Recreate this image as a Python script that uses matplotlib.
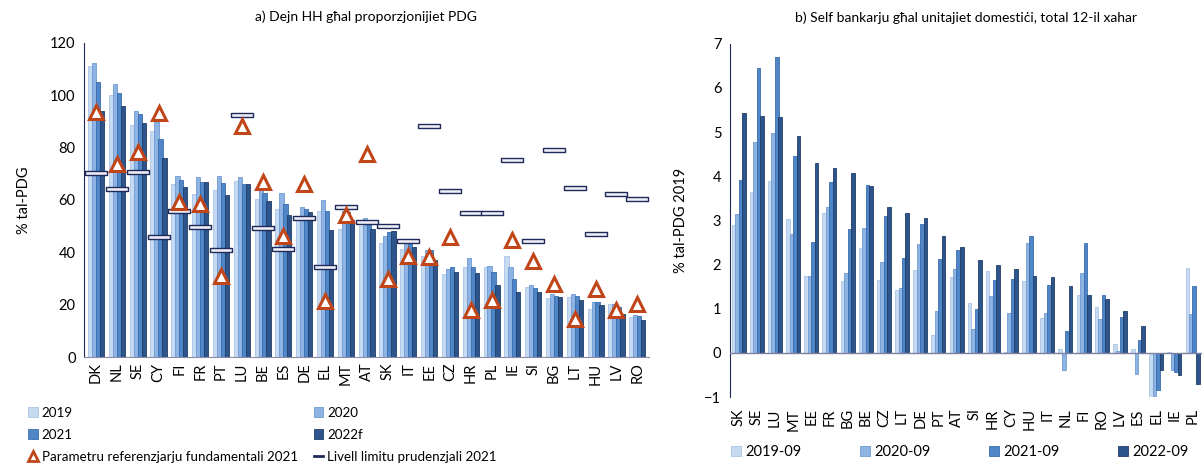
import numpy as np
import matplotlib as mpl
mpl.use("Agg")
import matplotlib.pyplot as plt
import matplotlib.lines as mlines
import matplotlib.patches as mpatch

mpl.rcParams.update({"font.family": ["Lato", "DejaVu Sans"], "font.size": 10.5})

# ---------- data: panel a ----------
A_CTRY = ["DK", "NL", "SE", "CY", "FI", "FR", "PT", "LU", "BE", "ES", "DE", "EL", "MT", "AT",
          "SK", "IT", "EE", "CZ", "HR", "PL", "IE", "SI", "BG", "LT", "HU", "LV", "RO"]
A_2019 = [111.0, 100.0, 88.8, 86.2, 65.9, 62.4, 63.8, 67.3, 60.3, 56.7, 53.5, 55.8, 48.9, 49.9,
          43.5, 41.3, 38.6, 31.6, 34.3, 34.3, 38.6, 26.7, 22.6, 22.8, 18.4, 20.2, 15.4]
A_2020 = [112.4, 104.4, 93.8, 89.8, 69.1, 68.7, 69.1, 68.6, 65.8, 62.8, 57.3, 59.9, 55.6, 53.1,
          46.4, 43.9, 40.8, 33.8, 37.7, 34.7, 34.2, 27.5, 23.9, 24.0, 20.9, 20.2, 16.2]
A_2021 = [104.9, 100.8, 92.9, 83.2, 67.7, 66.8, 66.4, 66.0, 62.8, 58.5, 56.7, 55.8, 55.3, 52.2,
          47.8, 43.5, 40.8, 34.2, 34.2, 32.4, 29.8, 26.2, 23.4, 23.4, 20.9, 19.2, 15.7]
A_2022 = [94.0, 95.9, 89.3, 76.1, 65.0, 66.8, 62.0, 66.0, 59.7, 54.4, 55.4, 48.4, 52.4, 48.9,
          48.2, 42.0, 37.1, 32.4, 32.0, 27.5, 24.9, 24.9, 23.0, 21.9, 19.7, 16.6, 14.3]
A_REF = [93.6, 73.6, 78.3, 93.1, 59.4, 58.6, 31.0, 88.3, 66.8, 46.4, 66.1, 21.5, 54.4, 77.7,
         29.8, 38.6, 38.1, 46.0, 17.9, 21.7, 44.8, 36.8, 27.9, 14.6, 25.8, 17.9, 20.2]
A_LIM = [70.4, 64.2, 70.7, 46.0, 55.8, 49.6, 40.8, 92.5, 49.1, 41.2, 53.1, 34.2, 57.2, 51.4,
         50.0, 44.4, 88.4, 63.3, 54.9, 54.9, 75.2, 44.4, 79.2, 64.7, 47.1, 62.4, 60.3]
A_YEARS = ["2019", "2020", "2021", "2022f"]

# ---------- data: panel b ----------
B_CTRY = ["SK", "SE", "LU", "MT", "EE", "FR", "BG", "BE", "CZ", "LT", "DE", "PT", "AT", "SI",
          "HR", "CY", "HU", "IT", "NL", "FI", "RO", "LV", "ES", "EL", "IE", "PL"]
B_2019 = [2.89, 3.65, 3.89, 3.03, 1.75, 3.16, 1.63, 2.37, 1.65, 1.43, 1.87, 0.40, 1.72, 1.12,
          1.85, 0.02, 1.62, 0.78, 0.08, 1.30, 1.04, 0.21, 0.08, -1.03, 0.02, 1.93]
B_2020 = [3.14, 4.78, 4.99, 2.69, 1.75, 3.31, 1.82, 2.82, 2.06, 1.46, 2.46, 0.94, 1.90, 0.53,
          1.28, 0.91, 2.48, 0.91, -0.38, 1.82, 0.76, 0.05, -0.48, -1.03, -0.38, 0.88]
B_2021 = [3.92, 6.46, 6.70, 4.46, 2.51, 3.86, 2.80, 3.81, 3.11, 2.16, 2.92, 2.12, 2.33, 0.99,
          1.65, 1.67, 2.65, 1.53, 0.49, 2.50, 1.32, 0.81, 0.30, -0.85, -0.43, 1.51]
B_2022 = [5.43, 5.37, 5.34, 4.91, 4.31, 4.18, 4.07, 3.79, 3.31, 3.16, 3.05, 2.65, 2.40, 2.11,
          1.98, 1.90, 1.75, 1.72, 1.51, 1.30, 1.22, 0.96, 0.62, -0.38, -0.50, -0.71]
B_YEARS = ["2019-09", "2020-09", "2021-09", "2022-09"]

FILL = ["#C6DAF2", "#8DB4E3", "#4F86C8", "#2D558C"]
EDGE = ["#A9C4E6", "#6E9AD3", "#3A6CAE", "#1F3D68"]
NAVY = "#1F2A5A"
TRI = "#C0461A"

fig = plt.figure(figsize=(12.04, 4.71), dpi=100)

# ---------- panel a ----------
ax = fig.add_axes([0.0698, 0.242, 0.469, 0.667])
x = np.arange(len(A_CTRY))
for j, vals in enumerate([A_2019, A_2020, A_2021, A_2022]):
    ax.bar(x + (j - 1.5) * 0.19, vals, 0.205, color=FILL[j], edgecolor=EDGE[j], linewidth=0.6, zorder=2)
rect = [(-1, -0.18), (1, -0.18), (1, 0.18), (-1, 0.18), (-1, -0.18)]
ax.plot(x, A_LIM, ls="", marker=rect, ms=16, mfc="#EEEEF6", mec=NAVY, mew=1.0, zorder=4)
ax.plot(x, A_REF, ls="", marker="^", ms=10, mfc="white", mec=TRI, mew=2.2, zorder=5)
ax.set_xlim(-0.58, 26.55); ax.set_ylim(0, 120)
ax.set_yticks(range(0, 121, 20))
ax.set_xticks(x); ax.set_xticklabels(A_CTRY, rotation=90)
ax.tick_params(length=0, pad=6)
ax.tick_params(axis="x", pad=4)
for s in ["top", "right"]: ax.spines[s].set_visible(False)
ax.spines["left"].set_color(NAVY); ax.spines["bottom"].set_color("#8C8CA8")
ax.set_ylabel("% tal-PDG", labelpad=14)
ax.set_title("a) Dejn HH għal proporzjonijiet PDG", fontsize=10, pad=16)

sq = lambda c, e: mpatch.Patch(fc=c, ec=e, lw=0.6)
h1 = [sq(FILL[0], EDGE[0]), sq(FILL[2], EDGE[2]),
      mlines.Line2D([], [], ls="", marker="^", ms=7, mfc="white", mec=TRI, mew=2)]
h2 = [sq(FILL[1], EDGE[1]), sq(FILL[3], EDGE[3]),
      mlines.Line2D([], [], color=NAVY, lw=2)]
kw = dict(frameon=False, handlelength=0.7, handleheight=0.7, handletextpad=0.3,
          labelspacing=0.75, borderaxespad=0, fontsize=9.6)
fig.legend(h1, ["2019", "2021", "Parametru referenzjarju fundamentali 2021"],
           loc="upper left", bbox_to_anchor=(0.019, 0.148), **kw)
fig.legend(h2, ["2020", "2022f", "Livell limitu prudenzjali 2021"],
           loc="upper left", bbox_to_anchor=(0.256, 0.148), **kw)

# ---------- panel b ----------
bx = fig.add_axes([0.606, 0.157, 0.392, 0.75])
xb = np.arange(len(B_CTRY))
for j, vals in enumerate([B_2019, B_2020, B_2021, B_2022]):
    bx.bar(xb + (j - 1.5) * 0.19, vals, 0.2, color=FILL[j], edgecolor=EDGE[j], linewidth=0.6,
           zorder=2, label=B_YEARS[j])
bx.axhline(0, color="#7F7F9F", lw=1.0, zorder=3)
bx.set_xlim(-0.5, 25.5); bx.set_ylim(-1, 7)
bx.set_yticks(range(-1, 8))
bx.set_xticks(xb); bx.set_xticklabels(B_CTRY, rotation=90)
bx.tick_params(length=0, pad=6)
bx.tick_params(axis="x", pad=8)
for s in ["top", "right", "bottom"]: bx.spines[s].set_visible(False)
bx.spines["left"].set_color(NAVY)
bx.set_ylabel("% tal-PDG 2019", labelpad=12)
bx.set_title("b) Self bankarju għal unitajiet domestiċi, total 12-il xahar", fontsize=10, pad=16)
kw2 = dict(kw, fontsize=10.5)
fig.legend([sq(FILL[j], EDGE[j]) for j in range(4)], B_YEARS, loc="upper left",
           bbox_to_anchor=(0.602, 0.068), ncol=4, columnspacing=4.0, **kw2)

fig.savefig("out.png", dpi=100)
